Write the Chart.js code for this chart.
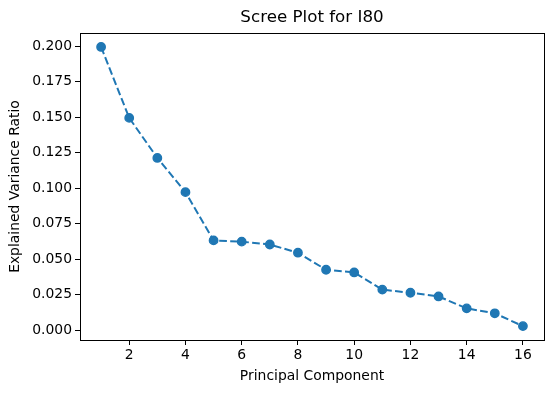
<!DOCTYPE html>
<html><head><meta charset="utf-8">
<script src="https://cdn.jsdelivr.net/npm/chart.js@4/dist/chart.umd.min.js"></script>
<style>html,body{margin:0;padding:0;background:#fff}#wrap{width:553px;height:393px}</style>
</head><body><div id="wrap"><canvas id="c" width="553" height="393"></canvas></div>
<script>
const components = [1,2,3,4,5,6,7,8,9,10,11,12,13,14,15,16];
const varianceRatio = [0.1995,0.1495,0.1213,0.0972,0.0632,0.0623,0.0603,0.0545,0.0425,0.0406,0.0285,0.0263,0.0237,0.0153,0.0118,0.0028];
const xTicks = [2,4,6,8,10,12,14,16];
const yTicks = [0,0.025,0.05,0.075,0.1,0.125,0.15,0.175,0.2];

const frame = {
  id:'frame',
  afterDraw(chart){
    const a = chart.chartArea, ctx = chart.ctx;
    ctx.save(); ctx.strokeStyle='#000'; ctx.lineWidth=1;
    ctx.strokeRect(Math.round(a.left)+0.5, Math.round(a.top)+0.5, Math.round(a.right-a.left), Math.round(a.bottom-a.top));
    ctx.restore();
  }
};
const font = {family:'DejaVu Sans', size:13.9};
new Chart(document.getElementById('c'), {
  type:'line',
  data:{datasets:[{
    data: components.map((c,i)=>({x:c,y:varianceRatio[i]})),
    borderColor:'#1f77b4', backgroundColor:'#1f77b4',
    pointBackgroundColor:'#1f77b4', pointBorderColor:'#1f77b4',
    borderWidth:2, borderDash:[7.7,3.3], pointRadius:4.2, pointBorderWidth:1.4,
    tension:0, fill:false
  }]},
  options:{
    responsive:false, animation:false, devicePixelRatio:1,
    layout:{padding:{left:0,top:0,right:9,bottom:0}},
    plugins:{
      legend:{display:false}, tooltip:{enabled:false},
      title:{display:true, fullSize:false, text:'Scree Plot for I80', color:'#000',
        font:{family:'DejaVu Sans', size:16.7, weight:'normal', lineHeight:1.2}, padding:{top:8,bottom:5}}
    },
    scales:{
      x:{type:'linear', min:0.25, max:16.75,
        afterBuildTicks(s){ s.ticks = xTicks.map(v=>({value:v})); },
        afterFit(s){ s.height = 53; },
        ticks:{color:'#000', font, padding:2, maxRotation:0, autoSkip:false, callback:v=>String(v)},
        grid:{drawOnChartArea:false, drawTicks:true, tickLength:5, color:'#000'},
        border:{display:true,color:'#000'},
        title:{display:true, text:'Principal Component', color:'#000', font, padding:{top:4,bottom:8.7}}
      },
      y:{type:'linear', min:-0.0070, max:0.2093,
        afterBuildTicks(s){ s.ticks = yTicks.map(v=>({value:v})); },
        afterFit(s){ s.width = 80; },
        ticks:{color:'#000', font, padding:3, autoSkip:false, callback:v=>v.toFixed(3)},
        grid:{drawOnChartArea:false, drawTicks:true, tickLength:5, color:'#000'},
        border:{display:true,color:'#000'},
        title:{display:true, text:'Explained Variance Ratio', color:'#000', font, padding:{top:7,bottom:4}}
      }
    }
  },
  plugins:[frame]
});
</script></body></html>
